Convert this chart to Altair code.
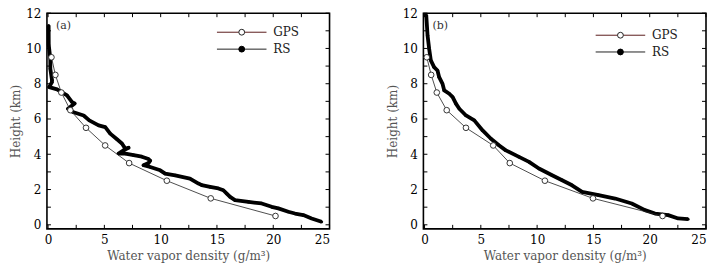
import altair as alt
import pandas as pd

# ---------------- data ----------------
gps_heights = [0.5, 1.5, 2.5, 3.5, 4.5, 5.5, 6.5, 7.5, 8.5, 9.5]
gps_a = [20.2, 14.45, 10.55, 7.2, 5.07, 3.37, 1.98, 1.18, 0.65, 0.3]
gps_b = [21.14, 14.96, 10.69, 7.57, 6.1, 3.68, 1.97, 1.09, 0.59, 0.2]

rs_a_h = [11.3, 10.2, 9.4, 8.85, 8.2, 8.09, 7.81, 7.68, 7.34, 6.96, 6.88, 6.58, 6.4,
          6.2, 5.92, 5.64, 5.54, 5.17, 4.85, 4.61, 4.32, 4.37, 4.23, 4.04, 4.04,
          3.95, 3.86, 3.73, 3.64, 3.5, 3.38, 3.28, 3.09, 2.9, 2.8, 2.62, 2.34, 2.25,
          2.15, 2.06, 1.96, 1.77, 1.58, 1.4, 1.3, 1.21, 1.02, 0.93, 0.74, 0.64,
          0.55, 0.36, 0.17]
rs_a_v = [0.05, 0.06, 0.2, 0.2, 0.35, 0.34, 0.1, 0.8, 1.68, 2.13, 2.36, 1.77, 2.2,
          3.16, 3.66, 4.49, 5.08, 5.52, 6.12, 6.56, 6.86, 7.15, 6.7, 6.26, 6.86,
          7.6, 8.33, 8.92, 9.07, 8.92, 8.48, 9.07, 9.96, 10.4, 11.29, 12.6, 13.36,
          13.65, 14.39, 15.13, 15.57, 15.87, 16.17, 16.6, 17.8, 18.97, 19.86,
          20.45, 21.34, 21.93, 22.67, 23.41, 24.29]

rs_b_h = [11.9, 10.73, 9.98, 9.32, 8.94, 8.75, 8.37, 7.99, 7.62, 7.43, 7.24, 6.87,
          6.58, 6.2, 5.92, 5.35, 4.88, 4.5, 4.22, 3.85, 3.57, 3.19, 2.81, 2.53,
          2.24, 1.87, 1.68, 1.49, 1.21, 0.83, 0.64, 0.55, 0.36, 0.32]
rs_b_v = [0.15, 0.27, 0.41, 0.56, 0.85, 1.15, 1.3, 1.6, 1.75, 2.2, 2.5, 2.79,
          3.09, 3.68, 4.42, 5.16, 5.9, 6.63, 7.22, 8.39, 9.28, 10.16, 11.33, 12.22,
          13.1, 13.99, 15.46, 16.93, 18.4, 19.58, 20.47, 21.64, 22.53, 23.4]

x_major = [0, 5, 10, 15, 20, 25]
x_minor = [2.5, 7.5, 12.5, 17.5, 22.5]
y_major = [0, 2, 4, 6, 8, 10, 12]
y_minor = [1, 3, 5, 7, 9, 11]

series_names = ["GPS", "RS"]

W, H = 283, 216
FONT = "DejaVu Serif"
TL = 4  # inward tick length

xscale = alt.Scale(domain=[-0.1, 25], nice=False, zero=False)
yscale = alt.Scale(domain=[-0.23, 12], nice=False, zero=False)
xaxis = alt.Axis(values=x_major, title="Water vapor density (g/m³)", labelPadding=6,
                 titlePadding=5, format="d")
yaxis = alt.Axis(values=y_major, title="Height (km)", labelPadding=6, titlePadding=3,
                 format="d")


def X(field):
    return alt.X(field, type="quantitative", scale=xscale, axis=xaxis)


def Y(field):
    return alt.Y(field, type="quantitative", scale=yscale, axis=yaxis)


def panel(label, gps_v, rs_v, rs_h, leg):
    gps_df = pd.DataFrame({"v": gps_v, "h": gps_heights, "i": range(len(gps_v))})
    rs_df = pd.DataFrame({"v": rs_v, "h": rs_h, "i": range(len(rs_v))})
    xt = pd.DataFrame({"t": x_major + x_minor})
    yt = pd.DataFrame({"t": y_major + y_minor})

    rs_line = alt.Chart(rs_df).mark_line(color="black", strokeWidth=3.8,
                                         strokeJoin="round").encode(
        x=X("v"), y=Y("h"), order="i:Q")
    rs_pts = alt.Chart(rs_df).mark_circle(color="black", size=10, opacity=1).encode(
        x=X("v"), y=Y("h"))
    gps_line = alt.Chart(gps_df).mark_line(color="#222222", strokeWidth=0.8).encode(
        x=X("v"), y=Y("h"), order="i:Q")
    gps_pts = alt.Chart(gps_df).mark_point(shape="circle", size=32, filled=True,
                                           fill="white", stroke="#222222",
                                           strokeWidth=0.9, opacity=1).encode(
        x=X("v"), y=Y("h"))

    # inward ticks on all four sides
    tb = alt.Chart(xt).mark_rule(color="black", strokeWidth=1).encode(
        x=X("t"), y=alt.value(H), y2=alt.value(H - TL))
    tt = alt.Chart(xt).mark_rule(color="black", strokeWidth=1).encode(
        x=X("t"), y=alt.value(0), y2=alt.value(TL))
    tl = alt.Chart(yt).mark_rule(color="black", strokeWidth=1).encode(
        y=Y("t"), x=alt.value(0), x2=alt.value(TL))
    tr = alt.Chart(yt).mark_rule(color="black", strokeWidth=1).encode(
        y=Y("t"), x=alt.value(W), x2=alt.value(W - TL))

    # legend
    x1, xc, x2, xtx, y1, y2 = leg
    leg_df = pd.DataFrame({"name": series_names, "x1": [x1, x1], "x2": [x2, x2],
                           "xc": [xc, xc], "xt": [xtx, xtx], "y": [y1, y2]})
    leg_line = alt.Chart(leg_df).mark_rule(strokeWidth=1).encode(
        x=X("x1"), x2="x2", y=Y("y"),
        color=alt.Color("name:N", scale=alt.Scale(domain=series_names,
                                                  range=["#5a1c1c", "#222222"]),
                        legend=None))
    leg_pts = alt.Chart(leg_df).mark_point(shape="circle", size=34, opacity=1,
                                           strokeWidth=1).encode(
        x=X("xc"), y=Y("y"),
        fill=alt.Fill("name:N", scale=alt.Scale(domain=series_names,
                                                range=["white", "black"]), legend=None),
        stroke=alt.Stroke("name:N", scale=alt.Scale(domain=series_names,
                                                    range=["#222222", "black"]),
                          legend=None))
    leg_txt = alt.Chart(leg_df).mark_text(align="left", baseline="middle", font=FONT,
                                          fontSize=12, color="#222222").encode(
        x=X("xt"), y=Y("y"), text="name:N")

    lab_df = pd.DataFrame({"x": [0.7], "y": [11.3], "s": [label]})
    lab = alt.Chart(lab_df).mark_text(align="left", baseline="middle", font=FONT,
                                      fontSize=11, color="#333333").encode(
        x=X("x"), y=Y("y"), text="s:N")

    return alt.layer(rs_line, rs_pts, gps_line, gps_pts, tb, tt, tl, tr,
                     leg_line, leg_pts, leg_txt, lab).properties(width=W, height=H)


pa = panel("(a)", gps_a, rs_a_v, rs_a_h, (15.0, 17.2, 19.4, 20.0, 10.92, 9.96))
pb = panel("(b)", gps_b, rs_b_v, rs_b_h, (15.2, 17.4, 19.6, 20.2, 10.75, 9.8))

chart = alt.hconcat(pa, pb, spacing=53).properties(
    padding={"left": 0, "top": -2, "right": 0, "bottom": 0}
).configure_view(stroke="black", strokeWidth=1.6).configure_axis(
    domain=False, ticks=False, grid=False, labelFont=FONT, labelFontSize=12,
    labelColor="black", titleFont=FONT, titleFontSize=12, titleColor="#555555",
    titleFontWeight="normal")

chart.save("out.html", embed_options={"renderer": "svg", "actions": False})
